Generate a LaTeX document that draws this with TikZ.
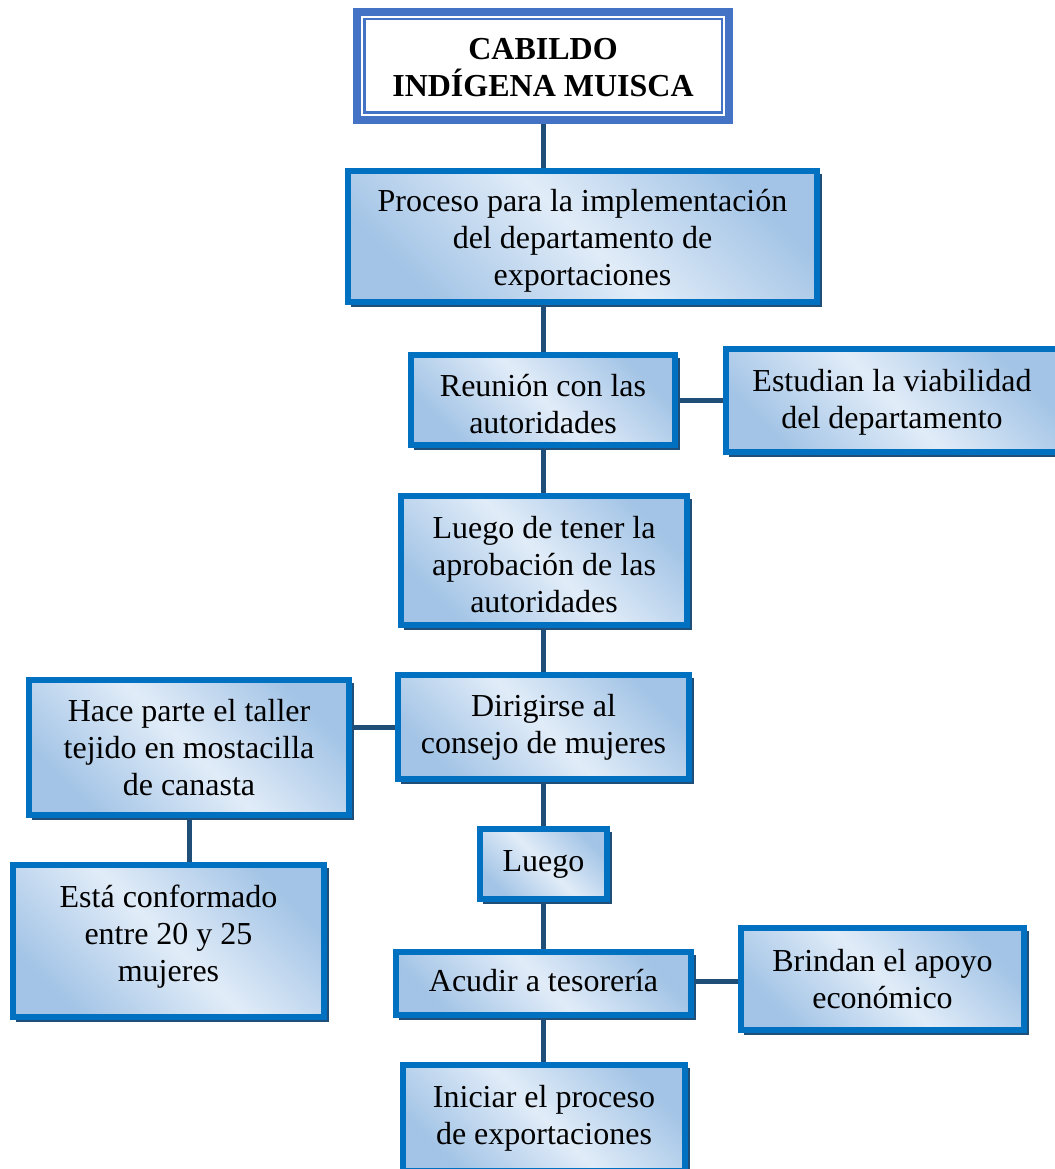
\documentclass[tikz,border=0pt]{standalone}
\usepackage{fontspec}
\setmainfont{Liberation Serif}
\usetikzlibrary{shadows,backgrounds,calc}
\definecolor{bordblue}{HTML}{0070C0}
\definecolor{shadblue}{HTML}{1F4E79}
\definecolor{lineblue}{HTML}{1F4E79}
\definecolor{titleblue}{HTML}{4472C4}
\definecolor{lightfill}{HTML}{E1ECF8}
\definecolor{darkfill}{HTML}{A3C4E6}
\newcommand\tsh[2]{\raisebox{#1}[\height][\depth]{#2}}
\tikzset{
  box/.style={rectangle, draw=bordblue, line width=6pt,
    top color=darkfill, bottom color=darkfill, middle color=lightfill,
    shading angle=-45, align=center, inner sep=0pt,
    font=\fontsize{32}{37}\selectfont,
    general shadow={shadow xshift=4pt, shadow yshift=-4pt, fill=shadblue, draw=shadblue, line width=1.5pt}},
  conn/.style={draw=lineblue, line width=5pt},
}
\begin{document}
\begin{tikzpicture}[x=1pt,y=-1pt]
\useasboundingbox (0,0) rectangle (1054,1169);
% title
\node[rectangle, draw=titleblue, line width=8pt, fill=white, minimum width=372pt, minimum height=108pt,
  align=center, font=\fontsize{32}{37}\selectfont\bfseries] (title) at (543,66) {\tsh{-2pt}{CABILDO}\\\tsh{-2pt}{INDÍGENA MUISCA}};
\draw[titleblue, line width=2.5pt] ($(title.north west)+(11.25,11.25)$) rectangle ($(title.south east)+(-11.25,-11.25)$);
\node[box, minimum width=469pt, minimum height=131pt] (b1) at (582.5,236.5) {\tsh{-4pt}{Proceso para la implementación}\\\tsh{-4pt}{del departamento de}\\\tsh{-4pt}{exportaciones}};
\node[box, minimum width=264pt, minimum height=90pt] (b2) at (543,400) {\tsh{-4pt}{Reunión con las}\\\tsh{-4pt}{autoridades}};
\node[box, minimum width=332pt, minimum height=103pt] (b3) at (892,400.5) {\tsh{-2pt}{Estudian la viabilidad}\\\tsh{-2pt}{del departamento}};
\node[box, minimum width=286pt, minimum height=129pt] (b4) at (544,560.5) {\tsh{-4pt}{Luego de tener la}\\\tsh{-4pt}{aprobación de las}\\\tsh{-4pt}{autoridades}};
\node[box, minimum width=291pt, minimum height=104pt] (b5) at (543.5,727) {Dirigirse al\\consejo de mujeres};
\node[box, minimum width=320pt, minimum height=135pt] (b6) at (189,747.5) {Hace parte el taller\\tejido en mostacilla\\de canasta};
\node[box, minimum width=311pt, minimum height=152pt] (b7) at (168.5,941) {\tsh{4pt}{Está conformado}\\\tsh{4pt}{entre 20 y 25}\\\tsh{4pt}{mujeres}};
\node[box, minimum width=127pt, minimum height=70pt] (b8) at (543.5,864) {Luego};
\node[box, minimum width=295pt, minimum height=63pt] (b9) at (543.5,983.5) {\tsh{3pt}{Acudir a tesorería}};
\node[box, minimum width=283pt, minimum height=102pt] (b10) at (882.5,979) {Brindan el apoyo\\económico};
\node[box, minimum width=282pt, minimum height=106pt] (b11) at (544,1118) {Iniciar el proceso\\de exportaciones};
\begin{scope}[on background layer]
\draw[conn] (title.center) -- (title.center |- b11.center);
\draw[conn] (b2.east) -- (b2.east -| b3.west);
\draw[conn] (b5.west) -- (b5.west -| b6.east);
\draw[conn] (b6.south) -- (b6.south |- b7.north);
\draw[conn] ([yshift=2pt]b9.east) -- ([yshift=2pt]b9.east -| b10.west);
\end{scope}
\end{tikzpicture}
\end{document}
